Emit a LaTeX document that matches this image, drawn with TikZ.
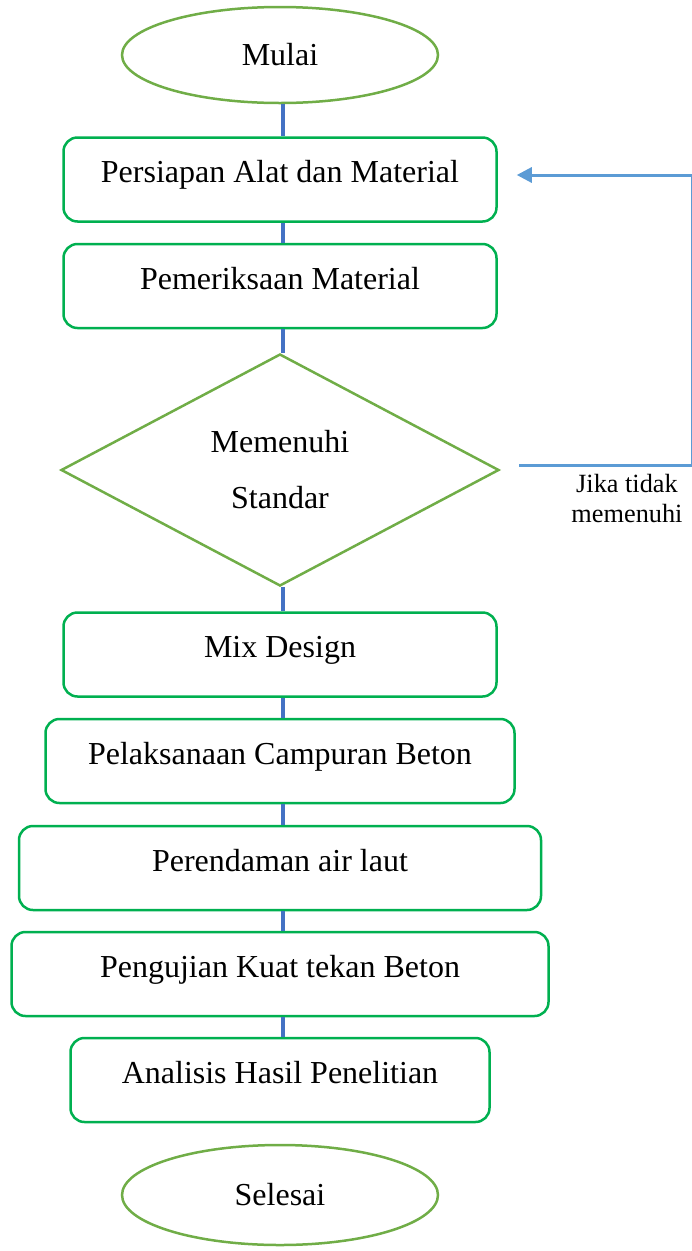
\documentclass[tikz,border=0pt]{standalone}
\usepackage{fontspec}
\setmainfont{Liberation Serif}
\usetikzlibrary{arrows.meta,calc,shapes.geometric}
\definecolor{hijau}{HTML}{00B050}
\definecolor{hijaumuda}{HTML}{70AD47}
\definecolor{biru}{HTML}{4472C4}
\definecolor{birumuda}{HTML}{5B9BD5}

\begin{document}
\begin{tikzpicture}[x=1pt, y=1pt,
  proses/.style={draw=hijau, line width=2.5pt, rounded corners=14pt, minimum height=84pt,
    text height=22pt, text depth=16pt, font=\fontsize{32}{38}\selectfont},
  ujung/.style={ellipse, draw=hijaumuda, line width=2.5pt, minimum width=316pt,
    minimum height=96pt, font=\fontsize{32}{38}\selectfont},
  cek/.style={diamond, aspect=2, draw=hijaumuda, line width=2.5pt, minimum width=438pt,
    minimum height=232pt, align=center, font=\fontsize{32}{56}\selectfont},
  alur/.style={draw=biru, line width=3.5pt, transform canvas={xshift=3pt}},
  balik/.style={draw=birumuda, line width=3pt, -{Triangle[length=15pt,width=15pt]}}]
  \useasboundingbox (0,0) rectangle (692,-1251);

  \node[ujung] (mulai) at (280,-55) {Mulai};
  \node[proses, minimum width=433pt] (alat) at (280,-179.5) {Persiapan Alat dan Material};
  \node[proses, minimum width=433pt] (periksa) at (280,-286) {Pemeriksaan Material};
  \node[cek] (standar) at (280,-470) {Memenuhi\\Standar};
  \node[proses, minimum width=433pt] (mix) at (280,-654.5) {Mix Design};
  \node[proses, minimum width=469pt] (campur) at (280,-761) {Pelaksanaan Campuran Beton};
  \node[proses, minimum width=522pt] (rendam) at (280,-868) {Perendaman air laut};
  \node[proses, minimum width=537pt] (uji) at (280,-974) {Pengujian Kuat tekan Beton};
  \node[proses, minimum width=419pt] (analisis) at (280,-1080) {Analisis Hasil Penelitian};
  \node[ujung, minimum height=100pt] (selesai) at (280,-1195) {Selesai};

  % alur utama
  \path[alur]
  (mulai.south) edge (alat.north)
  (alat.south) edge (periksa.north)
  (periksa.south) edge (standar.north)
  (standar.south) edge (mix.north)
  (mix.south) edge (campur.north)
  (campur.south) edge (rendam.north)
  (rendam.south) edge (uji.north)
  (uji.south) edge (analisis.north);

  % jika tidak memenuhi
  \draw[balik] ($(standar.east)+(19,5)$) -- ++(173,0) |- ($(alat.east)+(19,4.5)$);
  \node[align=center, font=\fontsize{26.3}{30}\selectfont] (ket) at (627,-498) {Jika tidak\\memenuhi};
\end{tikzpicture}
\end{document}
